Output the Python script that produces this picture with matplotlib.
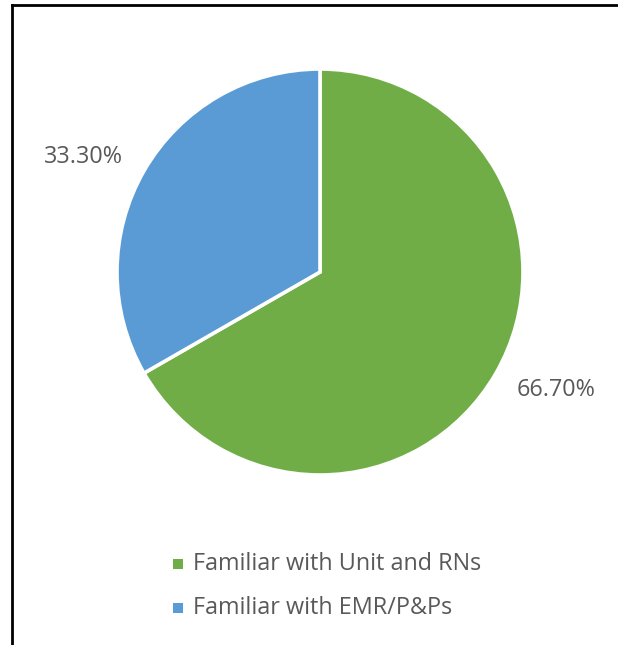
import matplotlib
matplotlib.use("Agg")
import matplotlib.pyplot as plt
from matplotlib.lines import Line2D
from matplotlib.patches import Rectangle

labels = ["Familiar with Unit and RNs", "Familiar with EMR/P&Ps"]
shares = [66.70, 33.30]
colors = ["#70AD47", "#5B9BD5"]

W, H = 618, 645
fig = plt.figure(figsize=(W / 100, H / 100), dpi=100)
plt.rcParams["font.family"] = ["Open Sans", "DejaVu Sans"]
TXT = "#595959"

# chart frame (only the left and top edges fall inside the canvas)
fig.add_artist(Line2D([11.5 / W, 11.5 / W], [0, 1 - 4.5 / H], transform=fig.transFigure,
                      color="black", lw=2.0, solid_capstyle="projecting"))
fig.add_artist(Line2D([11.5 / W, 1], [1 - 4.5 / H, 1 - 4.5 / H], transform=fig.transFigure,
                      color="black", lw=2.0, solid_capstyle="projecting"))

# pie: centre (320, 272) px from top-left, radius ~203 px
cx, cy, r = 320, H - 272, 203
ax = fig.add_axes([(cx - r) / W, (cy - r) / H, 2 * r / W, 2 * r / H])
wedges, _ = ax.pie(shares, colors=colors, startangle=90, counterclock=False,
                   radius=1.0, wedgeprops=dict(edgecolor="white", linewidth=2.6))
ax.set_xlim(-1, 1)
ax.set_ylim(-1, 1)
ax.set_aspect("equal")
ax.axis("off")

label_pos = [(1.165, -0.58), (-1.165, 0.565)]
for v, (x, y) in zip(shares, label_pos):
    ax.text(x, y, f"{v:.2f}%", ha="center", va="center", fontsize=16.8, color=TXT,
            clip_on=False)

# legend rows
rows_y = [564, 608]
for lab, col, y in zip(labels, colors, rows_y):
    fig.add_artist(Rectangle((173 / W, 1 - (y + 5) / H), 10 / W, 10 / H,
                             transform=fig.transFigure, color=col, lw=0))
    fig.text(193 / W, 1 - y / H, lab, ha="left", va="center", fontsize=16.8, color=TXT)

fig.savefig("out.png", dpi=100, facecolor="white")
